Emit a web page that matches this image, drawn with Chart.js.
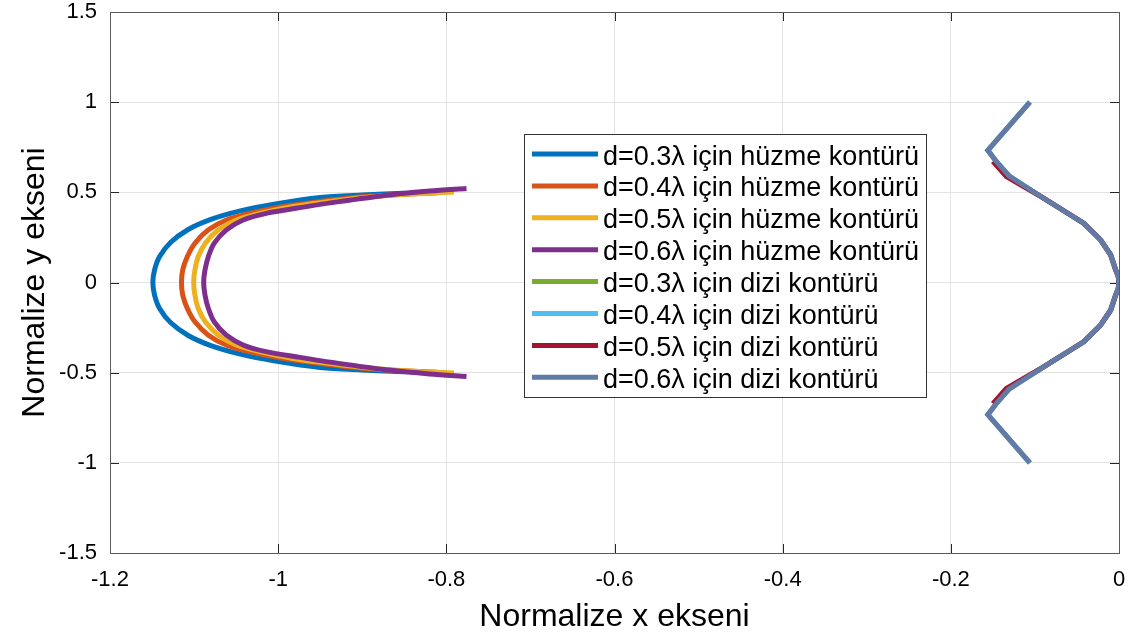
<!DOCTYPE html>
<html><head><meta charset="utf-8">
<script src="https://cdn.jsdelivr.net/npm/chart.js@4/dist/chart.umd.min.js"></script>
<style>html,body{margin:0;padding:0;background:#fff}#wrap{position:relative;width:1136px;height:642px}</style>
</head><body><div id="wrap"><canvas id="c" width="1136" height="642"></canvas></div>
<script>
const xTickValues = [-1.2, -1, -0.8, -0.6, -0.4, -0.2, 0];
const xTickLabels = ['-1.2', '-1', '-0.8', '-0.6', '-0.4', '-0.2', '0'];
const yTickValues = [-1.5, -1, -0.5, 0, 0.5, 1, 1.5];
const yTickLabels = ['-1.5', '-1', '-0.5', '0', '0.5', '1', '1.5'];
const xTitle = 'Normalize x ekseni';
const yTitle = 'Normalize y ekseni';

const seriesNames = [
  'd=0.3λ için hüzme kontürü', 'd=0.4λ için hüzme kontürü',
  'd=0.5λ için hüzme kontürü', 'd=0.6λ için hüzme kontürü',
  'd=0.3λ için dizi kontürü', 'd=0.4λ için dizi kontürü',
  'd=0.5λ için dizi kontürü', 'd=0.6λ için dizi kontürü'
];
const seriesColors = ['#0072BD', '#D95319', '#EDB120', '#7E2F8E', '#77AC30', '#4DBEEE', '#A2142F', '#6379A6'];

// beam contours
const beam03X = [-0.85, -0.90, -0.95, -1.005, -1.045, -1.080, -1.107, -1.128, -1.141, -1.147, -1.149, -1.147, -1.141, -1.128, -1.107, -1.080, -1.045, -1.005, -0.95, -0.90, -0.85];
const beam03Y = [0.495, 0.485, 0.471, 0.434, 0.397, 0.350, 0.294, 0.222, 0.144, 0.070, 0, -0.070, -0.144, -0.222, -0.294, -0.350, -0.397, -0.434, -0.471, -0.485, -0.495];
const beam04X = [-0.811, -0.85, -0.90, -0.95, -0.993, -1.033, -1.061, -1.083, -1.099, -1.108, -1.1135, -1.115, -1.1135, -1.108, -1.099, -1.083, -1.061, -1.033, -0.993, -0.95, -0.90, -0.85, -0.811];
const beam04Y = [0.497, 0.490, 0.475, 0.449, 0.422, 0.385, 0.348, 0.292, 0.218, 0.144, 0.070, 0, -0.070, -0.144, -0.218, -0.292, -0.348, -0.385, -0.422, -0.449, -0.475, -0.490, -0.497];
const beam05X = [-0.791, -0.85, -0.90, -0.95, -0.982, -1.021, -1.049, -1.071, -1.0866, -1.095, -1.099, -1.1005, -1.099, -1.095, -1.0866, -1.071, -1.049, -1.021, -0.982, -0.95, -0.90, -0.85, -0.791];
const beam05Y = [0.502, 0.489, 0.470, 0.443, 0.422, 0.385, 0.348, 0.292, 0.218, 0.144, 0.070, 0, -0.070, -0.144, -0.218, -0.292, -0.348, -0.385, -0.422, -0.443, -0.470, -0.489, -0.502];
const beam06X = [-0.776, -0.82, -0.866, -0.93, -0.977, -1.013, -1.041, -1.0615, -1.076, -1.083, -1.087, -1.0886, -1.087, -1.083, -1.076, -1.0615, -1.041, -1.013, -0.977, -0.93, -0.866, -0.82, -0.776];
const beam06Y = [0.521, 0.507, 0.487, 0.447, 0.413, 0.385, 0.348, 0.292, 0.218, 0.144, 0.070, 0, -0.070, -0.144, -0.218, -0.292, -0.348, -0.385, -0.413, -0.447, -0.487, -0.507, -0.521];

// array contours
const array03X = [-0.106, -0.156, -0.145, -0.131, -0.093, -0.042, -0.022, -0.010, -0.004, -0.001, 0, -0.001, -0.004, -0.010, -0.022, -0.042, -0.093, -0.131, -0.145, -0.156, -0.106];
const array03Y = [1.0, 0.733, 0.666, 0.592, 0.477, 0.329, 0.237, 0.154, 0.070, 0.035, 0, -0.035, -0.070, -0.154, -0.237, -0.329, -0.477, -0.592, -0.666, -0.733, -1.0];
const array04X = [-0.106, -0.156, -0.145, -0.131, -0.093, -0.042, -0.022, -0.010, -0.004, -0.001, 0, -0.001, -0.004, -0.010, -0.022, -0.042, -0.093, -0.131, -0.145, -0.156, -0.106];
const array04Y = [1.0, 0.733, 0.666, 0.592, 0.477, 0.329, 0.237, 0.154, 0.070, 0.035, 0, -0.035, -0.070, -0.154, -0.237, -0.329, -0.477, -0.592, -0.666, -0.733, -1.0];
const array05X = [-0.150, -0.134, -0.093, -0.042, -0.022, -0.010, -0.004, -0.001, 0, -0.001, -0.004, -0.010, -0.022, -0.042, -0.093, -0.134, -0.150];
const array05Y = [0.672, 0.588, 0.477, 0.329, 0.237, 0.154, 0.070, 0.035, 0, -0.035, -0.070, -0.154, -0.237, -0.329, -0.477, -0.588, -0.672];
const array06X = [-0.106, -0.156, -0.145, -0.131, -0.093, -0.042, -0.022, -0.010, -0.004, -0.001, 0, -0.001, -0.004, -0.010, -0.022, -0.042, -0.093, -0.131, -0.145, -0.156, -0.106];
const array06Y = [1.0, 0.733, 0.666, 0.592, 0.477, 0.329, 0.237, 0.154, 0.070, 0.035, 0, -0.035, -0.070, -0.154, -0.237, -0.329, -0.477, -0.592, -0.666, -0.733, -1.0];

const seriesX = [beam03X, beam04X, beam05X, beam06X, array03X, array04X, array05X, array06X];
const seriesY = [beam03Y, beam04Y, beam05Y, beam06Y, array03Y, array04Y, array05Y, array06Y];

const FONT = '"Liberation Sans", Arial, Helvetica, sans-serif';

const datasets = seriesNames.map((name, i) => ({
  label: name,
  data: seriesX[i].map((x, k) => ({x: x, y: seriesY[i][k]})),
  borderColor: seriesColors[i],
  backgroundColor: seriesColors[i],
  borderWidth: 5,
  showLine: true,
  pointRadius: 0,
  pointHoverRadius: 0,
  tension: i < 4 ? 0.3 : 0,
  borderJoinStyle: 'miter',
  borderCapStyle: 'butt',
  fill: false,
  order: seriesNames.length - 1 - i
}));

const boxPlugin = {
  id: 'boxPlugin',
  beforeDatasetsDraw(chart) {
    const {ctx, chartArea: a, scales: {x, y}} = chart;
    ctx.save();
    ctx.strokeStyle = '#262626';
    ctx.lineWidth = 1;
    ctx.beginPath();
    const L = 9;
    xTickValues.forEach(v => {
      const p = Math.round(x.getPixelForValue(v)) + 0.5;
      ctx.moveTo(p, a.bottom); ctx.lineTo(p, a.bottom - L);
      ctx.moveTo(p, a.top); ctx.lineTo(p, a.top + L);
    });
    yTickValues.forEach(v => {
      const p = Math.round(y.getPixelForValue(v)) + 0.5;
      ctx.moveTo(a.left, p); ctx.lineTo(a.left + L, p);
      ctx.moveTo(a.right, p); ctx.lineTo(a.right - L, p);
    });
    ctx.stroke();
    ctx.strokeStyle = '#5a5a5a';
    ctx.strokeRect(Math.round(a.left) + 0.5, Math.round(a.top) + 0.5, Math.round(a.right - a.left), Math.round(a.bottom - a.top));
    ctx.restore();
  }
};

const legendPlugin = {
  id: 'legendPlugin',
  afterDraw(chart) {
    const ctx = chart.ctx;
    const bx = 524, by = 134, bw = 402, bh = 263, rowH = 31.9;
    ctx.save();
    ctx.fillStyle = '#fff';
    ctx.fillRect(bx, by, bw, bh);
    ctx.strokeStyle = '#333';
    ctx.lineWidth = 1;
    ctx.strokeRect(bx + 0.5, by + 0.5, bw, bh);
    ctx.font = '27px ' + FONT;
    ctx.textBaseline = 'alphabetic';
    ctx.textAlign = 'left';
    seriesNames.forEach((name, i) => {
      const cy = by + 20 + rowH * i;
      ctx.strokeStyle = seriesColors[i];
      ctx.lineWidth = 5;
      ctx.lineCap = 'butt';
      ctx.beginPath();
      ctx.moveTo(bx + 8, cy); ctx.lineTo(bx + 74, cy);
      ctx.stroke();
      ctx.fillStyle = '#000';
      ctx.fillText(name, bx + 79, cy + 10.5);
    });
    ctx.restore();
  }
};

new Chart(document.getElementById('c'), {
  type: 'scatter',
  data: {datasets},
  options: {
    responsive: false,
    animation: false,
    devicePixelRatio: 1,
    layout: {padding: {top: 0, right: 0, left: 0, bottom: 0}},
    plugins: {legend: {display: false}, tooltip: {enabled: false}},
    scales: {
      x: {
        type: 'linear', min: -1.2, max: 0,
        afterBuildTicks: s => { s.ticks = xTickValues.map(v => ({value: v})); },
        afterFit: s => { s.height = 89; s.paddingLeft = 0; s.paddingRight = 17; },
        ticks: {
          callback: (v, i) => xTickLabels[i],
          font: {family: FONT, size: 22, lineHeight: 1.09}, color: '#000', padding: 15, maxRotation: 0, autoSkip: false
        },
        grid: {color: '#e3e3e3', lineWidth: 1, drawTicks: false},
        border: {display: false},
        title: {display: true, text: xTitle, font: {family: FONT, size: 32}, color: '#000', padding: {top: 0, bottom: 6}}
      },
      y: {
        type: 'linear', min: -1.5, max: 1.5,
        afterBuildTicks: s => { s.ticks = yTickValues.map(v => ({value: v})); },
        afterFit: s => { s.width = 110; s.paddingTop = 12; s.paddingBottom = 0; },
        ticks: {
          callback: (v, i) => yTickLabels[i],
          font: {family: FONT, size: 22, lineHeight: 1.09}, color: '#000', padding: 13, autoSkip: false
        },
        grid: {color: '#e3e3e3', lineWidth: 1, drawTicks: false},
        border: {display: false},
        title: {display: true, text: yTitle, font: {family: FONT, size: 32}, color: '#000', padding: {top: 16, bottom: 0}}
      }
    }
  },
  plugins: [boxPlugin, legendPlugin]
});
</script>
</body></html>
